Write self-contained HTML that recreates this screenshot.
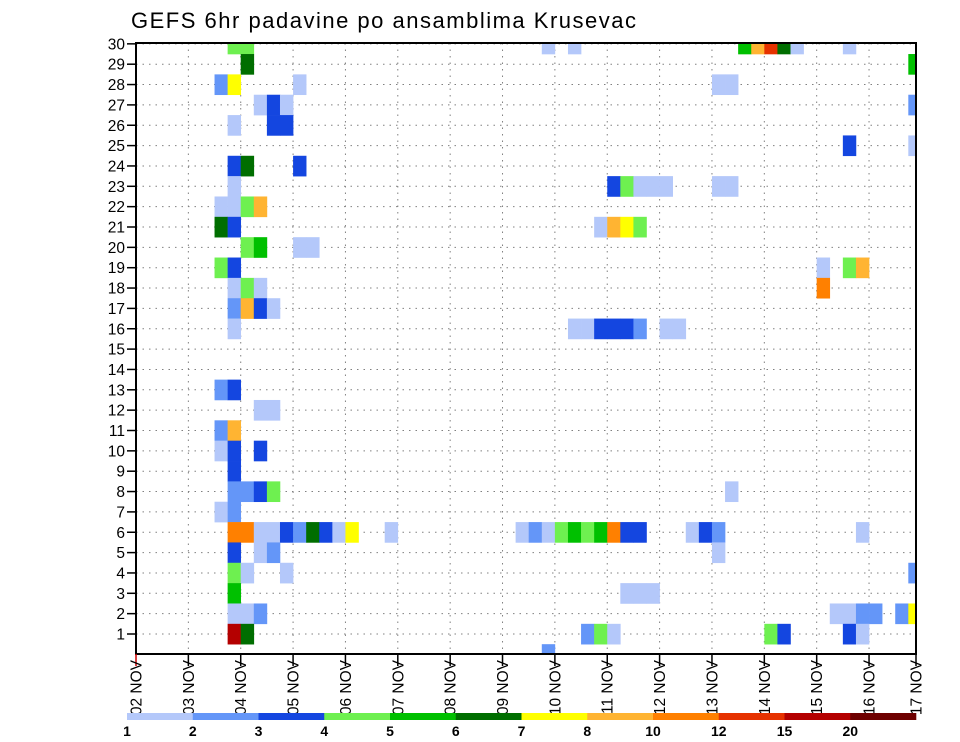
<!DOCTYPE html>
<html><head><meta charset="utf-8"><title>GEFS 6hr padavine Krusevac</title>
<style>html,body{margin:0;padding:0;background:#fff;}svg{display:block;font-family:"Liberation Sans",sans-serif;}</style>
</head><body>
<svg id="chart" width="960" height="742" viewBox="0 0 960 742" xmlns="http://www.w3.org/2000/svg">
<defs><clipPath id="plotclip"><rect x="136" y="43" width="780" height="611"/></clipPath></defs>
<text x="131" y="28" font-size="22" textLength="505" fill="#000">GEFS 6hr padavine po ansamblima Krusevac</text>
<g id="grid"></g>
<g id="cells" clip-path="url(#plotclip)"></g>
<rect x="136" y="43" width="780" height="611" fill="none" stroke="#000" stroke-width="2"/>
<g id="yaxis"></g>
<g id="xaxis"></g>
<g id="legend"></g>
</svg>
<script>
// Category / tick data
const dayLabels = ["02 NOV","03 NOV","04 NOV","05 NOV","06 NOV","07 NOV","08 NOV","09 NOV","10 NOV","11 NOV","12 NOV","13 NOV","14 NOV","15 NOV","16 NOV","17 NOV"];
const memberTicks = [1,2,3,4,5,6,7,8,9,10,11,12,13,14,15,16,17,18,19,20,21,22,23,24,25,26,27,28,29,30];
const legendLevels = [1,2,3,4,5,6,7,8,10,12,15,20];
const legendColors = ["#b4c8fa","#6496f8","#1446e0","#6ef050","#00c000","#006e00","#ffff00","#ffb432","#ff8000","#e63200","#b40000","#6e0000"];
// Cell data: ensemble member, 6-hour slot index from 02 NOV 00Z, precipitation class (mm)
const cellMember = [
30,30,30,30,30,30,30,30,30,30,
29,29,
28,28,28,28,28,
27,27,27,27,
26,26,26,
25,25,
24,24,24,
23,23,23,23,23,23,23,23,
22,22,22,22,
21,21,21,21,21,21,
20,20,20,20,
19,19,19,19,19,
18,18,18,18,
17,17,17,17,
16,16,16,16,16,16,16,16,16,
13,13,
12,12,
11,11,
10,10,10,
9,
8,8,8,8,8,
7,7,
6,6,6,6,6,6,6,6,6,6,6,6,6,6,6,6,6,6,6,6,6,6,6,6,6,
5,5,5,5,
4,4,4,4,
3,3,3,3,
2,2,2,2,2,2,2,2,2,
1,1,1,1,1,1,1,1,1,
0];
const cellSlot = [
7,8,31,33,46,47,48,49,50,54,
8,59,
6,7,12,44,45,
9,10,11,59,
7,10,11,
54,59,
7,8,12,
7,36,37,38,39,40,44,45,
6,7,8,9,
6,7,35,36,37,38,
8,9,12,13,
6,7,52,54,55,
7,8,9,52,
7,8,9,10,
7,33,34,35,36,37,38,40,41,
6,7,
9,10,
6,7,
6,7,9,
7,
7,8,9,10,45,
6,7,
7,8,9,10,11,12,13,14,15,16,19,29,30,31,32,33,34,35,36,37,38,42,43,44,55,
7,9,10,44,
7,8,11,59,
7,37,38,39,
7,8,9,53,54,55,56,58,59,
7,8,34,35,36,48,49,54,55,
31];
const cellPrecip = [
4,4,1,1,5,8,12,6,1,1,
6,5,
2,7,1,1,1,
1,3,1,2,
1,3,3,
3,1,
3,6,3,
1,3,4,1,1,1,1,1,
1,1,4,8,
6,3,1,8,7,4,
4,5,1,1,
4,3,1,4,8,
1,4,1,10,
2,8,3,1,
1,1,1,3,3,3,2,1,1,
2,3,
1,1,
2,8,
1,3,3,
3,
2,2,3,4,1,
1,2,
10,10,1,1,3,2,6,3,1,7,1,1,2,1,4,5,4,5,10,3,3,1,3,2,1,
3,1,2,1,
4,1,1,2,
5,1,1,1,
1,1,2,1,1,2,2,2,7,
15,6,2,4,1,4,3,3,1,
2];

const NS = "http://www.w3.org/2000/svg";
const X0 = 136, DAYW = 52.36, SLOTW = DAYW/4, XR = 916;
const Y1 = 634, ROWH = 20.35;
function xSlot(s){ return X0 + s*SLOTW; }
function xDay(d){ return Math.min(X0 + d*DAYW, XR); }
function yRow(m){ return Y1 - (m-1)*ROWH; }
function colorFor(v){ let i = legendLevels.indexOf(v); if(i<0){ i=0; for(let j=0;j<legendLevels.length;j++){ if(v>=legendLevels[j]) i=j; } } return legendColors[i]; }
function mk(tag, attrs, parent){ const e=document.createElementNS(NS,tag); for(const k in attrs) e.setAttribute(k,attrs[k]); parent.appendChild(e); return e; }

const grid = document.getElementById('grid');
memberTicks.forEach(m=>{
  const l = mk('line',{x1:X0,x2:XR,y1:yRow(m),y2:yRow(m),stroke:'#808080','stroke-width':1,'stroke-dasharray':'1.5 5'},grid);
  
  
});
dayLabels.forEach((d,i)=>{
  const l = mk('line',{x1:xDay(i),x2:xDay(i),y1:43,y2:654,stroke:'#808080','stroke-width':1,'stroke-dasharray':'1.5 5'},grid);
  
  
});

const cells = document.getElementById('cells');
for(let i=0;i<cellMember.length;i++){
  const r = mk('rect',{x:xSlot(cellSlot[i]),y:yRow(cellMember[i])-ROWH/2,width:SLOTW+0.3,height:ROWH+0.3,fill:colorFor(cellPrecip[i])},cells);
  
  
}

const yax = document.getElementById('yaxis');
memberTicks.forEach(m=>{
  const t = mk('line',{x1:127,x2:136,y1:yRow(m),y2:yRow(m),stroke:'#000','stroke-width':1.5},yax);
  
  
  const tx = mk('text',{x:125,y:yRow(m)+5.5,'font-size':15.5,'text-anchor':'end',fill:'#000'},yax);
  tx.textContent = m;
  
  
});

const xax = document.getElementById('xaxis');
dayLabels.forEach((d,i)=>{
  const x = xDay(i);
  const t = mk('line',{x1:x,x2:x,y1:654,y2:666,stroke:i===0?'#c00':'#000','stroke-width':1.5},xax);
  
  
  const tx = mk('text',{x:0,y:0,'font-size':15.5,'text-anchor':'end',fill:'#000',transform:'translate('+(x+5.5)+',660) rotate(-90)'},xax);
  tx.textContent = d;
  
  
});

const leg = document.getElementById('legend');
const LX = 127, LW = (916-127)/legendLevels.length;
legendLevels.forEach((v,i)=>{
  const r = mk('rect',{x:LX+i*LW,y:713,width:LW+0.3,height:7,fill:legendColors[i]},leg);
  
  
  const t = mk('text',{x:LX+i*LW,y:736,'font-size':14,'font-weight':'bold','text-anchor':'middle',fill:'#000'},leg);
  t.textContent = v;
  
  
});
</script>
</body></html>
